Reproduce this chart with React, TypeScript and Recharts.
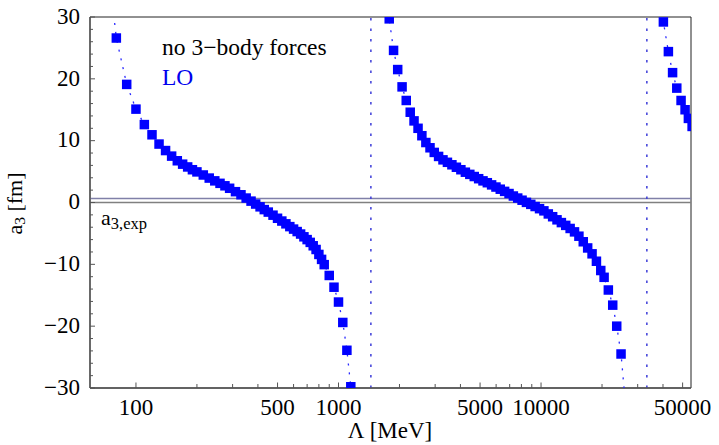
import React from 'react';
import { ScatterChart, Scatter, XAxis, YAxis, ReferenceLine, ReferenceArea } from 'recharts';

// Branch 1 (Λ in MeV, a3 in fm)
const lambda1 = [70, 80, 90, 100, 110, 120, 130, 140, 150, 160, 170, 180, 190, 200, 215, 230, 245, 260, 275, 290, 310, 330, 350, 370, 390, 410, 430, 450, 475, 500, 525, 550, 575, 600, 625, 650, 675, 700, 725, 750, 775, 800, 825, 850, 900, 950, 1000, 1050, 1100, 1150];
const a3Branch1 = [43.5, 26.6, 19.1, 15.1, 12.6, 10.95, 9.45, 8.4, 7.5, 6.75, 6.2, 5.75, 5.3, 4.95, 4.45, 3.95, 3.5, 3.1, 2.7, 2.3, 1.75, 1.25, 0.72, 0.22, -0.25, -0.7, -1.15, -1.55, -2.05, -2.55, -3.0, -3.45, -3.9, -4.3, -4.7, -5.1, -5.55, -6.0, -6.45, -7.0, -7.6, -8.4, -9.2, -10.05, -11.8, -13.7, -16.1, -19.4, -23.9, -29.8];

// Branch 2
const lambda2 = [1700, 1780, 1870, 1960, 2060, 2160, 2260, 2360, 2470, 2580, 2700, 2830, 2970, 3120, 3280, 3450, 3630, 3820, 4020, 4230, 4450, 4680, 4920, 5170, 5430, 5700, 5990, 6290, 6610, 6950, 7300, 7670, 8060, 8470, 8900, 9350, 9830, 10330, 10860, 11410, 11990, 12600, 13240, 13920, 14630, 15380, 16160, 16990, 17860, 18770, 19720, 20480, 21490, 22590, 23640, 24830, 26000];
const a3Branch2 = [38, 29.7, 24.6, 21.5, 18.7, 16.5, 14.6, 13.2, 12.0, 10.8, 9.7, 8.85, 8.1, 7.45, 6.9, 6.5, 6.1, 5.7, 5.3, 4.9, 4.55, 4.2, 3.85, 3.5, 3.2, 2.85, 2.5, 2.15, 1.8, 1.45, 1.05, 0.72, 0.37, 0.02, -0.3, -0.65, -1.0, -1.35, -1.85, -2.3, -2.8, -3.25, -3.7, -4.2, -4.75, -5.45, -6.35, -7.35, -8.3, -9.5, -11.0, -12.1, -14.15, -16.6, -20.0, -24.5, -32];

// Branch 3
const lambda3 = [38000, 40180, 42530, 44610, 46790, 49130, 51420, 53390, 55700];
const a3Branch3 = [37, 29.2, 24.4, 21.0, 18.5, 16.5, 15.0, 13.6, 12.3];

const poles = [1445, 33300];
const a3Exp = 0.65;

const xMajorTicks = [100, 500, 1000, 5000, 10000, 50000];
const xMinorTicks = [200, 300, 400, 600, 700, 800, 900, 2000, 3000, 4000, 6000, 7000, 8000, 9000, 20000, 30000, 40000];
const yMajorTicks = [-30, -20, -10, 0, 10, 20, 30];
const yMinorTicks = [-28, -26, -24, -22, -18, -16, -14, -12, -8, -6, -4, -2, 2, 4, 6, 8, 12, 14, 16, 18, 22, 24, 26, 28];

const FONT = 'Liberation Serif, Times New Roman, Times, serif';
const W = 719;
const H = 445;
const X_MIN = 59.3;
const X_MAX = 55000;
const BLUE = '#0000ff';

const toPoints = (xs: number[], ys: number[]) => xs.map((x, i) => ({ x, y: ys[i] }));
const fmt = (v: number) => (v < 0 ? '\u2212' + Math.abs(v) : String(v));

const txtStyle = { fontFamily: FONT };

const XTick = (props: any) => {
  const { x, y, payload } = props;
  const v = payload.value;
  const major = xMajorTicks.includes(v);
  return (
    <g>
      <line x1={x} x2={x} y1={y} y2={y - (major ? 5.5 : 4)} stroke="#555" strokeWidth={1} />
      {major && (
        <text x={x} y={y + 27} textAnchor="middle" style={txtStyle} fontSize={23} fill="#000">
          {v}
        </text>
      )}
    </g>
  );
};

const YTick = (props: any) => {
  const { x, y, payload } = props;
  const v = payload.value;
  const major = yMajorTicks.includes(v);
  return (
    <g>
      <line x1={x} x2={x + (major ? 5 : 3)} y1={y} y2={y} stroke="#555" strokeWidth={1} />
      {major && (
        <text x={x - 10} y={y + 6.8} textAnchor="end" style={txtStyle} fontSize={23} fill="#000">
          {fmt(v)}
        </text>
      )}
    </g>
  );
};

const SquareMarker = (props: any) => {
  const { cx, cy } = props;
  const s = 9.5;
  return <rect x={cx - s / 2} y={cy - s / 2} width={s} height={s} fill={BLUE} />;
};

const lineStyle = { stroke: '#2a2aff', strokeWidth: 1.3, strokeDasharray: '2 7' };

export default function App() {
  const xTicks = [...xMajorTicks, ...xMinorTicks].sort((a, b) => a - b);
  const yTicks = [...yMajorTicks, ...yMinorTicks].sort((a, b) => a - b);
  return (
    <div style={{ position: 'absolute', left: 0, top: 0, width: W, height: H, background: '#fff', fontFamily: FONT }}>
      <ScatterChart width={W} height={H} margin={{ top: 17, right: 28, bottom: 27, left: 30 }}>
        <XAxis
          type="number"
          dataKey="x"
          scale="log"
          domain={[X_MIN, X_MAX]}
          allowDataOverflow
          ticks={xTicks}
          interval={0}
          tick={<XTick />}
          tickLine={false}
          tickSize={0}
          tickMargin={0}
          axisLine={{ stroke: '#555', strokeWidth: 1.3 }}
          height={30}
        />
        <YAxis
          type="number"
          dataKey="y"
          domain={[-30, 30]}
          allowDataOverflow
          ticks={yTicks}
          interval={0}
          tick={<YTick />}
          tickLine={false}
          tickSize={0}
          tickMargin={0}
          axisLine={{ stroke: '#555', strokeWidth: 1.3 }}
          width={60}
        />
        <ReferenceArea x1={X_MIN} x2={X_MAX} y1={-30} y2={30} fill="none" stroke="#222" strokeWidth={1} />
        <ReferenceLine y={0} stroke="#808080" strokeWidth={1.6} />
        <ReferenceLine y={a3Exp} stroke="#8080a8" strokeWidth={1.5} />
        {poles.map((p) => (
          <ReferenceLine key={p} x={p} stroke="#3c3cd8" strokeWidth={1.5} strokeDasharray="2.5 8" />
        ))}
        <Scatter data={toPoints(lambda1, a3Branch1)} shape={<SquareMarker />} line={lineStyle} lineType="joint" isAnimationActive={false} />
        <Scatter data={toPoints(lambda2, a3Branch2)} shape={<SquareMarker />} line={lineStyle} lineType="joint" isAnimationActive={false} />
        <Scatter data={toPoints(lambda3, a3Branch3)} shape={<SquareMarker />} line={lineStyle} lineType="joint" isAnimationActive={false} />
      </ScatterChart>
      <svg width={W} height={H} style={{ position: 'absolute', left: 0, top: 0, pointerEvents: 'none' }}>
        <text x={162} y={55} style={txtStyle} fontSize={23.5} fill="#000">no 3{'\u2212'}body forces</text>
        <text x={162} y={84.5} style={txtStyle} fontSize={23.5} fill="#0000ee">LO</text>
        <text x={101} y={225} style={txtStyle} fontSize={22} fill="#000">
          a<tspan fontSize={16.5} dy={3.5}>3,exp</tspan>
        </text>
        <text transform="translate(21.5,203.5) rotate(-90)" textAnchor="middle" style={txtStyle} fontSize={22} fill="#000">
          a<tspan fontSize={15.5} dy={3.5}>3</tspan>
          <tspan dy={-3.5}> [fm]</tspan>
        </text>
        <text x={390} y={438} textAnchor="middle" style={txtStyle} fontSize={23} fill="#000">
          {'\u039B'} [MeV]
        </text>
      </svg>
    </div>
  );
}
